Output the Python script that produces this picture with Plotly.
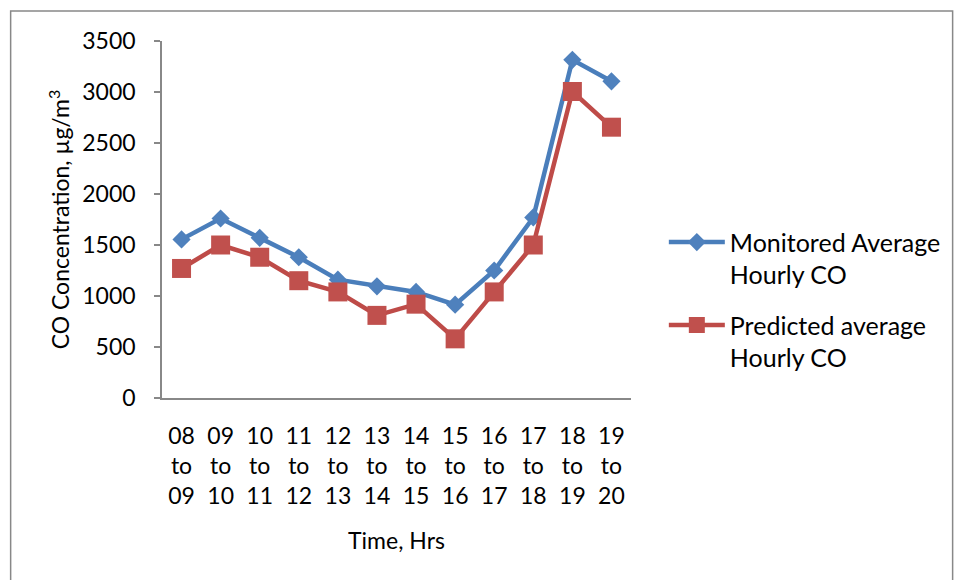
import plotly.graph_objects as go

# Hourly time windows
hours_from = ["08", "09", "10", "11", "12", "13", "14", "15", "16", "17", "18", "19"]
hours_to = ["09", "10", "11", "12", "13", "14", "15", "16", "17", "18", "19", "20"]
categories = [f"{a}-{b}" for a, b in zip(hours_from, hours_to)]
tick_labels = [f"{a}<br>to<br>{b}" for a, b in zip(hours_from, hours_to)]

# CO concentration, µg/m³
monitored = [1555, 1760, 1570, 1380, 1160, 1095, 1040, 915, 1250, 1770, 3315, 3105]
predicted = [1270, 1500, 1380, 1150, 1040, 810, 920, 580, 1040, 1500, 3005, 2655]

FONT = "Lato"
BLUE = "#4A7EBB"
RED = "#BE4B48"

fig = go.Figure()
fig.add_trace(go.Scatter(
    x=categories, y=monitored, mode="lines+markers",
    name="Monitored Average<br>Hourly CO", legendgroup="m",
    line=dict(color=BLUE, width=4.5),
    marker=dict(symbol="diamond", size=14, color="#4F81BD", line=dict(width=0)),
))
fig.add_trace(go.Scatter(
    x=categories, y=predicted, mode="lines+markers",
    name="Predicted average<br>Hourly CO", legendgroup="p",
    line=dict(color=RED, width=4.5),
    marker=dict(symbol="square", size=19, color="#C0504D", line=dict(width=0)),
))

fig.update_layout(
    width=958, height=580,
    margin=dict(l=162, r=325, t=41, b=182),
    paper_bgcolor="white", plot_bgcolor="white",
    font=dict(family=FONT, size=24, color="black"),
    showlegend=True,
    legend=dict(
        x=1.07, y=0.275, xanchor="left", yanchor="middle",
        font=dict(family=FONT, size=25, color="black"),
        itemwidth=56, tracegroupgap=15, valign="top",
        bgcolor="rgba(0,0,0,0)",
    ),
    xaxis=dict(
        type="category", tickvals=categories, ticktext=tick_labels,
        showgrid=False, zeroline=False,
        showline=True, linecolor="#888888", linewidth=1.5,
        ticks="", ticklabelstandoff=17,
        tickfont=dict(family=FONT, size=23),
        title=dict(text="Time, Hrs", font=dict(family=FONT, size=23), standoff=25),
        range=[-0.5, 11.5],
    ),
    yaxis=dict(
        range=[0, 3500], tickvals=[0, 500, 1000, 1500, 2000, 2500, 3000, 3500],
        showgrid=False, zeroline=False,
        showline=True, linecolor="#888888", linewidth=1.5,
        ticks="outside", ticklen=6, tickcolor="#888888", tickwidth=1.5,
        ticklabelstandoff=14,
        tickfont=dict(family=FONT, size=23),
        title=dict(text="CO Concentration, µg/m<sup>3</sup>", font=dict(family=FONT, size=23), standoff=6),
    ),
    shapes=[dict(
        type="rect", xref="paper", yref="paper",
        x0=(10 - 162) / 471, x1=(956 - 162) / 471,
        y0=(398 - 620) / 357, y1=(398 - 11) / 357,
        line=dict(color="#888888", width=1.5), fillcolor="rgba(0,0,0,0)", layer="below",
    )],
)

fig.write_html("out.html")
